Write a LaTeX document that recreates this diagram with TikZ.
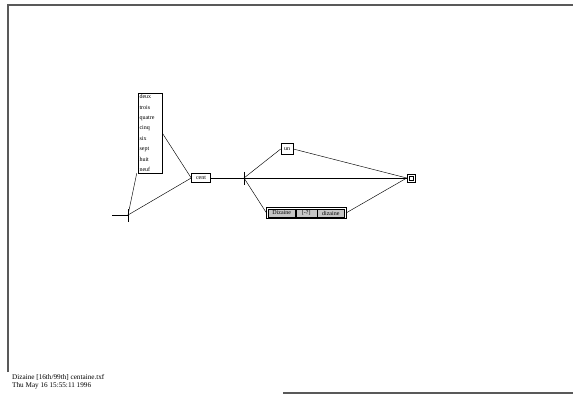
\documentclass[tikz,border=0pt]{standalone}
\usepackage{fontspec}
\setmainfont{Liberation Serif}
\begin{document}
\begin{tikzpicture}[x=1pt,y=-1pt,
  every node/.style={font=\fontsize{6}{10.4}\selectfont},
  wbox/.style={draw,line width=0.5pt,fill=white,inner sep=1.5pt},
  pbox/.style={draw,line width=0.6pt,fill=white,inner xsep=3pt,inner ysep=2.5pt},
  gbox/.style={draw,line width=0.5pt,fill=gray!45,inner xsep=2.5pt,inner ysep=1.5pt,minimum height=8pt},
  edge/.style={line width=0.45pt},
  frameline/.style={line width=1.4pt,gray!70!black}]
\useasboundingbox (0,0) rectangle (573,395);
% sheet border
\draw[frameline] (8,372) -- (8,5) -- (573,5);
\draw[frameline] (283,393) -- (573,393);
% states
\coordinate (init) at (128,215);
\coordinate (mid) at (244,178);
\draw[edge] (112,215) -- (init);
\draw[line width=0.8pt] (128,209) -- (128,222);
\draw[line width=0.8pt] (244,172) -- (244,185);
% boxes
\node[wbox,align=left,text width=21pt] (digits) at (150,133)
  {deux\\trois\\quatre\\cinq\\six\\sept\\huit\\neuf};
\node[pbox,minimum width=19pt] (cent) at (201,178) {cent};
\node[pbox,minimum width=12pt,minimum height=11pt] (un) at (287,149) {un};
\node[gbox,anchor=west,minimum width=27pt] (sub1) at (268,213) {Dizaine};
\node[gbox,anchor=west,minimum width=21pt] (sub2) at (sub1.east) {[-?]};
\node[gbox,anchor=west,minimum width=27pt] (sub3) at (sub2.east) {dizaine};
\draw[line width=0.5pt] ([shift={(-1.5,-1.5)}]sub1.north west) rectangle ([shift={(1.5,1.5)}]sub3.south east);
\node[draw,line width=0.5pt,minimum size=8pt,inner sep=0pt] (final) at (411,178) {};
\node[draw,line width=0.5pt,minimum size=4pt,inner sep=0pt] at (final) {};
% transitions
\draw[edge] (init) -- ([xshift=-1pt]digits.south west);
\draw[edge] (init) -- (cent.west);
\draw[edge] (digits.east) -- (cent.west);
\draw[edge] (cent.east) -- (mid);
\draw[edge] (mid) -- (un.west);
\draw[edge] (mid) -- (final.west);
\draw[edge] (mid) -- ([xshift=-1.5pt]sub1.west);
\draw[edge] (un.east) -- (final.west);
\draw[edge] ([xshift=1.5pt]sub3.east) -- (final.west);
% footer
\node[anchor=west,align=left,inner sep=0pt,font=\fontsize{7.2}{8.2}\selectfont] (footer) at (12,382)
  {Dizaine [16th/99th] centaine.txf\\Thu May 16 15:55:11 1996};
\end{tikzpicture}
\end{document}
